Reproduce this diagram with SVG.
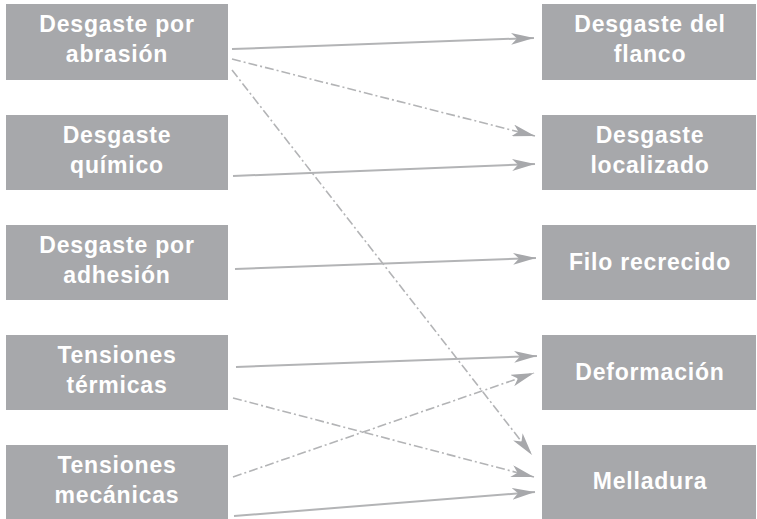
<svg xmlns="http://www.w3.org/2000/svg" width="757" height="519" viewBox="0 0 757 519">
<style>
.box{fill:#a7a8ab}
.lbl{font-family:"Liberation Sans",Arial,sans-serif;font-weight:bold;font-size:23px;fill:#ffffff;text-anchor:middle;letter-spacing:0.8px}
.ln{stroke:#b3b4b6;stroke-width:2;fill:none}
.dd{stroke-width:1.6;stroke-dasharray:9 3 2 3}
</style>
<defs>
<marker id="ah" viewBox="0 0 23 12" refX="23" refY="6" markerWidth="23" markerHeight="12" markerUnits="userSpaceOnUse" orient="auto">
<path d="M0,0 L23,6 L0,12 L6,6 Z" fill="#a7a8ab"/>
</marker>
</defs>
<rect width="757" height="519" fill="#ffffff"/>
<g id="n-abrasion"><rect class="box" x="6" y="4" width="222" height="76"/><text class="lbl" x="117" y="32">Desgaste por</text><text class="lbl" x="117" y="62">abrasión</text></g>
<g id="n-quimico"><rect class="box" x="6" y="115" width="222" height="75"/><text class="lbl" x="117" y="143">Desgaste</text><text class="lbl" x="117" y="173">químico</text></g>
<g id="n-adhesion"><rect class="box" x="6" y="225" width="222" height="75"/><text class="lbl" x="117" y="253">Desgaste por</text><text class="lbl" x="117" y="283">adhesión</text></g>
<g id="n-termicas"><rect class="box" x="6" y="335" width="222" height="75"/><text class="lbl" x="117" y="363">Tensiones</text><text class="lbl" x="117" y="393">térmicas</text></g>
<g id="n-mecanicas"><rect class="box" x="6" y="445" width="222" height="74"/><text class="lbl" x="117" y="473">Tensiones</text><text class="lbl" x="117" y="503">mecánicas</text></g>
<g id="n-flanco"><rect class="box" x="542" y="4" width="214" height="76"/><text class="lbl" x="650" y="32">Desgaste del</text><text class="lbl" x="650" y="62">flanco</text></g>
<g id="n-localizado"><rect class="box" x="542" y="115" width="214" height="75"/><text class="lbl" x="650" y="143">Desgaste</text><text class="lbl" x="650" y="173">localizado</text></g>
<g id="n-filo"><rect class="box" x="542" y="225" width="214" height="75"/><text class="lbl" x="650" y="270">Filo recrecido</text></g>
<g id="n-deformacion"><rect class="box" x="542" y="335" width="214" height="75"/><text class="lbl" x="650" y="380">Deformación</text></g>
<g id="n-melladura"><rect class="box" x="542" y="445" width="214" height="74"/><text class="lbl" x="650" y="489">Melladura</text></g>
<g id="connectors">
<line class="ln" x1="232" y1="49" x2="534" y2="38" marker-end="url(#ah)"/>
<line class="ln dd" x1="232" y1="59" x2="535" y2="136" marker-end="url(#ah)"/>
<line class="ln dd" x1="232" y1="70" x2="532" y2="455" marker-end="url(#ah)"/>
<line class="ln" x1="233" y1="176" x2="535" y2="164" marker-end="url(#ah)"/>
<line class="ln" x1="235" y1="269" x2="536" y2="258" marker-end="url(#ah)"/>
<line class="ln" x1="236" y1="367" x2="537" y2="356" marker-end="url(#ah)"/>
<line class="ln dd" x1="233" y1="398" x2="534" y2="477" marker-end="url(#ah)"/>
<line class="ln dd" x1="233" y1="477" x2="534" y2="373" marker-end="url(#ah)"/>
<line class="ln" x1="234" y1="516" x2="535" y2="492" marker-end="url(#ah)"/>
</g>
</svg>
